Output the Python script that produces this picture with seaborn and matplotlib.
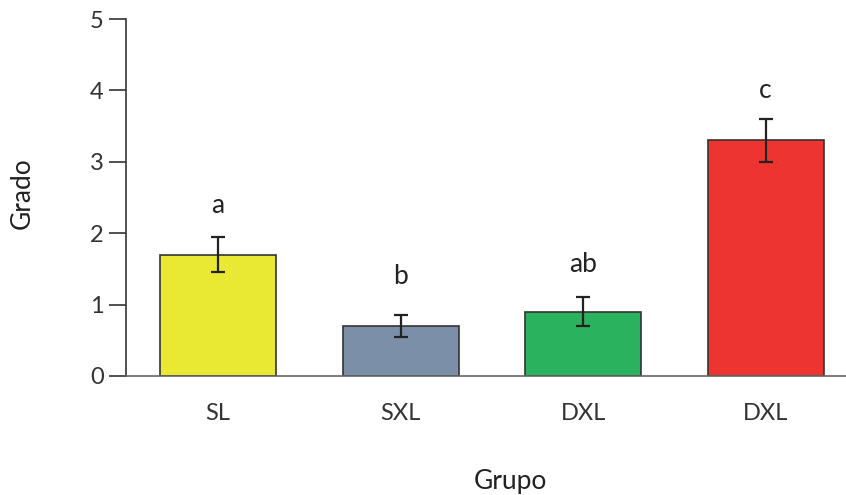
import matplotlib
matplotlib.use("Agg")
import matplotlib.pyplot as plt
import seaborn as sns
import pandas as pd

groups = ["SL", "SXL", "DXL", "DXL"]
values = [1.7, 0.7, 0.9, 3.3]
errors = [0.25, 0.15, 0.2, 0.3]
letters = ["a", "b", "ab", "c"]
letter_y = [2.28, 1.29, 1.46, 3.89]
colors = ["#E9E832", "#7B8FA8", "#2AB25F", "#EE3430"]

sns.set_style("white")
plt.rcParams['font.family'] = ['Lato', 'DejaVu Sans']

df = pd.DataFrame({"idx": list(range(len(groups))), "Grado": values})

fig = plt.figure(figsize=(8.46, 4.95), dpi=100)
ax = fig.add_axes([126/846, 1-376/495, 1-126/846, (376-19)/495])

sns.barplot(data=df, x="idx", y="Grado", hue="idx", palette=colors,
            legend=False, width=0.635, edgecolor="#333333", linewidth=1.2,
            saturation=1, ax=ax)
pos = list(range(len(groups)))
ax.errorbar(pos, values, yerr=errors, fmt="none", ecolor="#222222",
            elinewidth=1.6, capsize=5, capthick=1.6, zorder=5)
for p, t, y in zip(pos, letters, letter_y):
    ax.text(p, y, t, ha="center", va="baseline", fontsize=19, color="#222222")

ax.set_xlim(-0.504, 3.44)
ax.set_ylim(0, 5)
ax.set_yticks([0, 1, 2, 3, 4, 5])
ax.set_xticks(pos)
ax.set_xticklabels(groups)
ax.set_xlabel("")
ax.set_ylabel("")
for s in ["top", "right"]:
    ax.spines[s].set_visible(False)
ax.spines["left"].set_color("#333333")
ax.spines["left"].set_linewidth(1.2)
ax.spines["bottom"].set_color("#666666")
ax.spines["bottom"].set_linewidth(1.2)
ax.tick_params(axis="y", left=True, length=12, width=1.2, color="#333333",
               labelsize=17, labelcolor="#333333", pad=4, direction="out")
ax.tick_params(axis="x", bottom=False, labelsize=17, labelcolor="#333333", pad=16)

fig.text(510/846, 1-482/495, "Grupo", ha="center", va="center", fontsize=19, color="#222222")
fig.text(22/846, 1-193/495, "Grado", ha="center", va="center", rotation=90, fontsize=19, color="#222222")

fig.savefig("out.png", dpi=100)
